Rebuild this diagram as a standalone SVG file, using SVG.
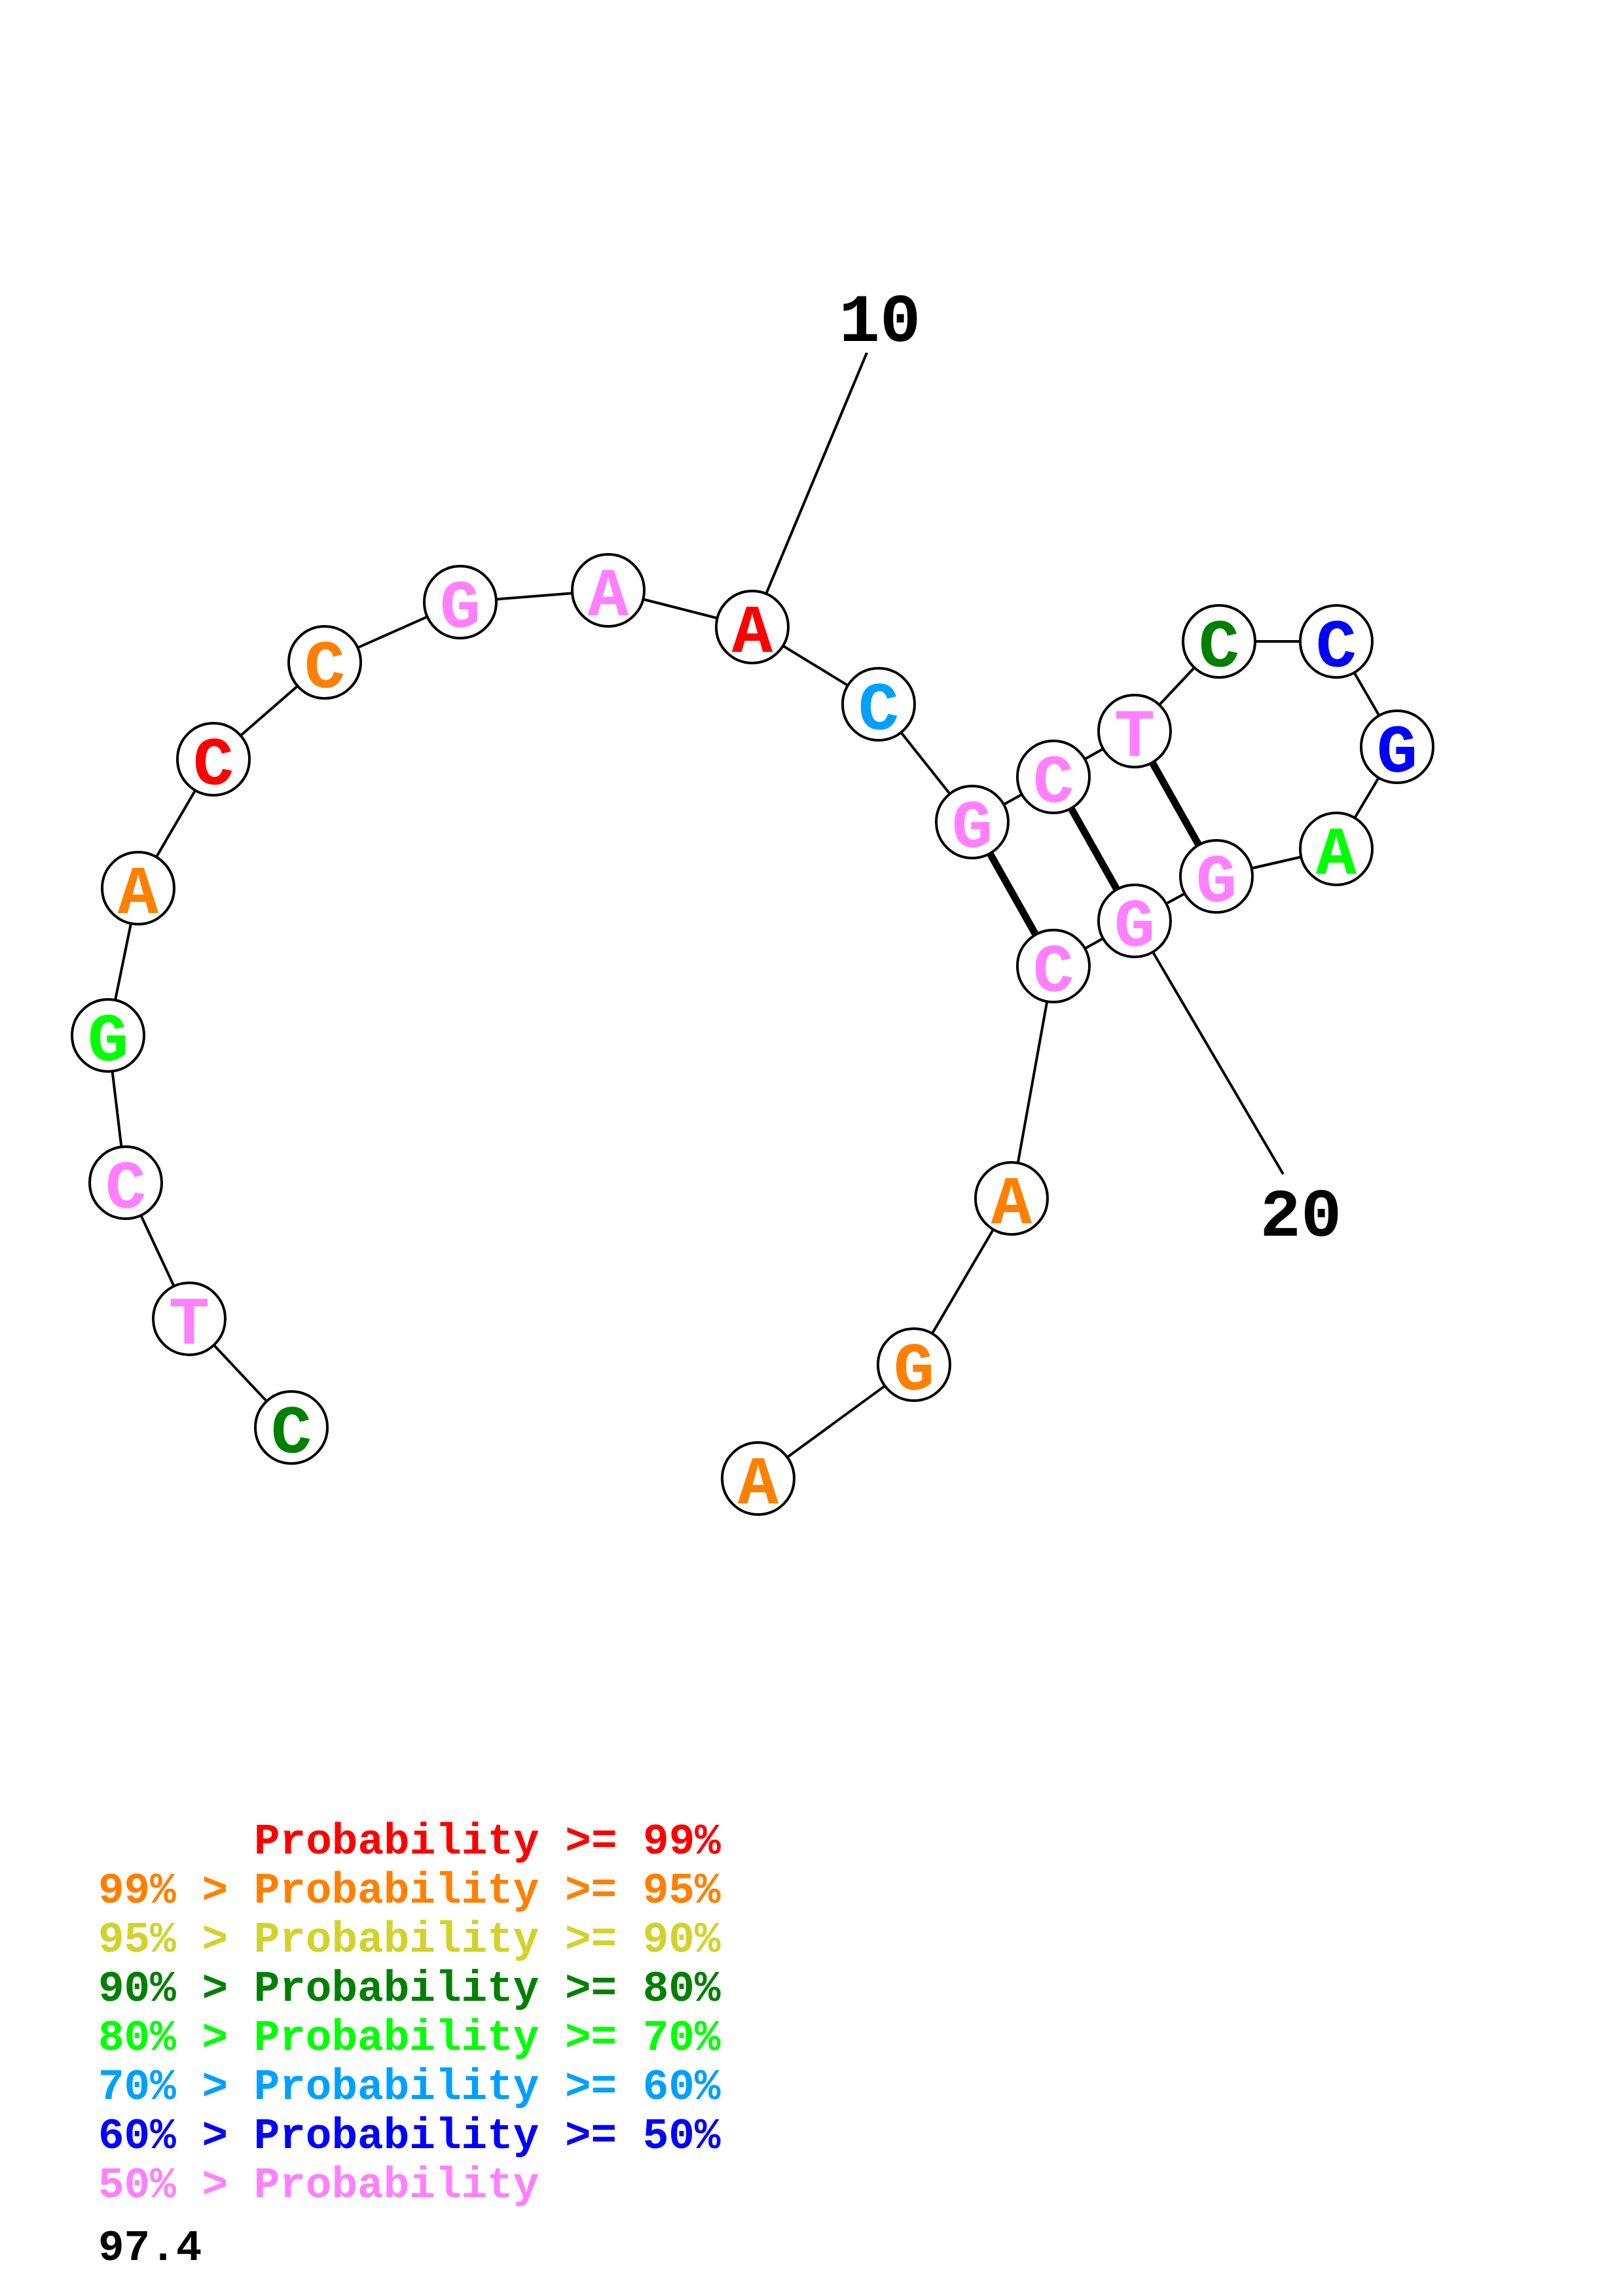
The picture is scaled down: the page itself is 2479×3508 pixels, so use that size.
<svg xmlns="http://www.w3.org/2000/svg" width="2479" height="3508" viewBox="0 0 2479 3508">
<style>
.bg{fill:#ffffff}
.bb{stroke:#000;stroke-width:4;fill:none}
.pr{stroke:#000;stroke-width:11;fill:none}
.nd circle{fill:#fff;stroke:#000;stroke-width:4}
.nd text{font-family:"Liberation Mono","DejaVu Sans Mono",monospace;font-weight:bold;font-size:104px;text-anchor:middle}
.num{font-family:"Liberation Mono","DejaVu Sans Mono",monospace;font-weight:bold;font-size:104px;text-anchor:middle;fill:#000}
.lg{font-family:"Liberation Mono","DejaVu Sans Mono",monospace;font-weight:bold;font-size:66px}
.red{fill:#FF0000}.org{fill:#FF8000}.yel{fill:#D2D22A}.dgr{fill:#008000}.grn{fill:#00FF00}.lbl{fill:#00A0FF}.blu{fill:#0000FF}.pnk{fill:#FF80FF}.blk{fill:#000}
</style>
<rect class="bg" x="0" y="0" width="2479" height="3508"/>
<g id="connectors">
<polyline class="bb" points="445,2181 289,2015 192,1807 165,1582 211,1357 326,1160 496,1012 703,920 929,902 1149,958 1342,1076 1485,1256 1609,1187 1733,1117 1862,980 2041,980 2134,1141 2041,1297 1858,1339 1733,1407 1609,1476 1545,1831 1396,2085 1158,2259"/>
<line class="pr" x1="1485" y1="1256" x2="1609" y2="1476"/>
<line class="pr" x1="1609" y1="1187" x2="1733" y2="1407"/>
<line class="pr" x1="1733" y1="1117" x2="1858" y2="1339"/>
<line class="bb" x1="1149" y1="958" x2="1324" y2="539"/>
<line class="bb" x1="1733" y1="1407" x2="1960" y2="1794"/>
</g>
<g id="n1" class="nd"><circle cx="445" cy="2181" r="55"/><text class="dgr" x="445" y="2219">C</text></g>
<g id="n2" class="nd"><circle cx="289" cy="2015" r="55"/><text class="pnk" x="289" y="2053">T</text></g>
<g id="n3" class="nd"><circle cx="192" cy="1807" r="55"/><text class="pnk" x="192" y="1845">C</text></g>
<g id="n4" class="nd"><circle cx="165" cy="1582" r="55"/><text class="grn" x="165" y="1620">G</text></g>
<g id="n5" class="nd"><circle cx="211" cy="1357" r="55"/><text class="org" x="211" y="1395">A</text></g>
<g id="n6" class="nd"><circle cx="326" cy="1160" r="55"/><text class="red" x="326" y="1198">C</text></g>
<g id="n7" class="nd"><circle cx="496" cy="1012" r="55"/><text class="org" x="496" y="1050">C</text></g>
<g id="n8" class="nd"><circle cx="703" cy="920" r="55"/><text class="pnk" x="703" y="958">G</text></g>
<g id="n9" class="nd"><circle cx="929" cy="902" r="55"/><text class="pnk" x="929" y="940">A</text></g>
<g id="n10" class="nd"><circle cx="1149" cy="958" r="55"/><text class="red" x="1149" y="996">A</text></g>
<g id="n11" class="nd"><circle cx="1342" cy="1076" r="55"/><text class="lbl" x="1342" y="1114">C</text></g>
<g id="n12" class="nd"><circle cx="1485" cy="1256" r="55"/><text class="pnk" x="1485" y="1294">G</text></g>
<g id="n13" class="nd"><circle cx="1609" cy="1187" r="55"/><text class="pnk" x="1609" y="1225">C</text></g>
<g id="n14" class="nd"><circle cx="1733" cy="1117" r="55"/><text class="pnk" x="1733" y="1155">T</text></g>
<g id="n15" class="nd"><circle cx="1862" cy="980" r="55"/><text class="dgr" x="1862" y="1018">C</text></g>
<g id="n16" class="nd"><circle cx="2041" cy="980" r="55"/><text class="blu" x="2041" y="1018">C</text></g>
<g id="n17" class="nd"><circle cx="2134" cy="1141" r="55"/><text class="blu" x="2134" y="1179">G</text></g>
<g id="n18" class="nd"><circle cx="2041" cy="1297" r="55"/><text class="grn" x="2041" y="1335">A</text></g>
<g id="n19" class="nd"><circle cx="1858" cy="1339" r="55"/><text class="pnk" x="1858" y="1377">G</text></g>
<g id="n20" class="nd"><circle cx="1733" cy="1407" r="55"/><text class="pnk" x="1733" y="1445">G</text></g>
<g id="n21" class="nd"><circle cx="1609" cy="1476" r="55"/><text class="pnk" x="1609" y="1514">C</text></g>
<g id="n22" class="nd"><circle cx="1545" cy="1831" r="55"/><text class="org" x="1545" y="1869">A</text></g>
<g id="n23" class="nd"><circle cx="1396" cy="2085" r="55"/><text class="org" x="1396" y="2123">G</text></g>
<g id="n24" class="nd"><circle cx="1158" cy="2259" r="55"/><text class="org" x="1158" y="2297">A</text></g>
<g id="labels">
<text class="num" x="1344" y="521">10</text>
<text class="num" x="1987" y="1888">20</text>
</g>
<g id="legend" class="lg">
<text class="red" x="388" y="2832">Probability &gt;= 99%</text>
<text class="org" x="150" y="2907">99% &gt; Probability &gt;= 95%</text>
<text class="yel" x="150" y="2982">95% &gt; Probability &gt;= 90%</text>
<text class="dgr" x="150" y="3057">90% &gt; Probability &gt;= 80%</text>
<text class="grn" x="150" y="3132">80% &gt; Probability &gt;= 70%</text>
<text class="lbl" x="150" y="3207">70% &gt; Probability &gt;= 60%</text>
<text class="blu" x="150" y="3282">60% &gt; Probability &gt;= 50%</text>
<text class="pnk" x="150" y="3357">50% &gt; Probability</text>
<text class="blk" x="150" y="3453">97.4</text>
</g>
</svg>
